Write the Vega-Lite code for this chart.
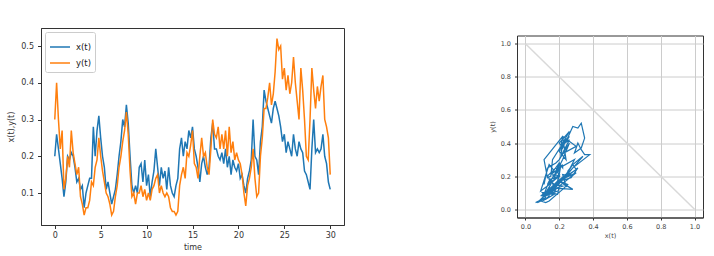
{
  "$schema": "https://vega.github.io/schema/vega-lite/v6.json",
  "padding": {"left": 7, "top": 27, "right": 5, "bottom": 5},
  "background": "white",
  "datasets": {
    "d": [
      {"t":0.0,"x":0.20,"y":0.30},{"t":0.2,"x":0.26,"y":0.40},{"t":0.4,"x":0.22,"y":0.30},{"t":0.6,"x":0.18,"y":0.22},{"t":0.8,"x":0.14,"y":0.27},
      {"t":1.0,"x":0.09,"y":0.11},{"t":1.2,"x":0.13,"y":0.14},{"t":1.4,"x":0.20,"y":0.20},{"t":1.6,"x":0.19,"y":0.17},{"t":1.8,"x":0.21,"y":0.27},
      {"t":2.0,"x":0.20,"y":0.21},{"t":2.2,"x":0.17,"y":0.18},{"t":2.4,"x":0.13,"y":0.15},{"t":2.6,"x":0.14,"y":0.17},{"t":2.8,"x":0.11,"y":0.09},
      {"t":3.0,"x":0.12,"y":0.07},{"t":3.2,"x":0.06,"y":0.04},{"t":3.4,"x":0.10,"y":0.06},{"t":3.6,"x":0.12,"y":0.06},{"t":3.8,"x":0.14,"y":0.08},
      {"t":4.0,"x":0.14,"y":0.13},{"t":4.2,"x":0.28,"y":0.12},{"t":4.4,"x":0.20,"y":0.17},{"t":4.6,"x":0.27,"y":0.19},{"t":4.8,"x":0.31,"y":0.25},
      {"t":5.0,"x":0.25,"y":0.20},{"t":5.2,"x":0.20,"y":0.16},{"t":5.4,"x":0.17,"y":0.13},{"t":5.6,"x":0.11,"y":0.10},{"t":5.8,"x":0.13,"y":0.09},
      {"t":6.0,"x":0.10,"y":0.07},{"t":6.2,"x":0.07,"y":0.04},{"t":6.4,"x":0.09,"y":0.05},{"t":6.6,"x":0.11,"y":0.09},{"t":6.8,"x":0.15,"y":0.12},
      {"t":7.0,"x":0.20,"y":0.17},{"t":7.2,"x":0.24,"y":0.20},{"t":7.4,"x":0.30,"y":0.24},{"t":7.6,"x":0.28,"y":0.27},{"t":7.8,"x":0.34,"y":0.32},
      {"t":8.0,"x":0.29,"y":0.26},{"t":8.2,"x":0.20,"y":0.16},{"t":8.4,"x":0.12,"y":0.09},{"t":8.6,"x":0.10,"y":0.10},{"t":8.8,"x":0.12,"y":0.07},
      {"t":9.0,"x":0.10,"y":0.10},{"t":9.2,"x":0.17,"y":0.10},{"t":9.4,"x":0.18,"y":0.12},{"t":9.6,"x":0.13,"y":0.09},{"t":9.8,"x":0.19,"y":0.11},
      {"t":10.0,"x":0.12,"y":0.08},{"t":10.2,"x":0.15,"y":0.10},{"t":10.4,"x":0.09,"y":0.08},{"t":10.6,"x":0.13,"y":0.11},{"t":10.8,"x":0.16,"y":0.12},
      {"t":11.0,"x":0.22,"y":0.14},{"t":11.2,"x":0.17,"y":0.15},{"t":11.4,"x":0.12,"y":0.10},{"t":11.6,"x":0.17,"y":0.12},{"t":11.8,"x":0.14,"y":0.10},
      {"t":12.0,"x":0.16,"y":0.09},{"t":12.2,"x":0.11,"y":0.10},{"t":12.4,"x":0.17,"y":0.09},{"t":12.6,"x":0.12,"y":0.06},{"t":12.8,"x":0.10,"y":0.05},
      {"t":13.0,"x":0.09,"y":0.05},{"t":13.2,"x":0.12,"y":0.04},{"t":13.4,"x":0.14,"y":0.05},{"t":13.6,"x":0.22,"y":0.12},{"t":13.8,"x":0.25,"y":0.15},
      {"t":14.0,"x":0.20,"y":0.17},{"t":14.2,"x":0.24,"y":0.14},{"t":14.4,"x":0.22,"y":0.21},{"t":14.6,"x":0.27,"y":0.20},{"t":14.8,"x":0.25,"y":0.23},
      {"t":15.0,"x":0.28,"y":0.27},{"t":15.2,"x":0.22,"y":0.18},{"t":15.4,"x":0.20,"y":0.17},{"t":15.6,"x":0.17,"y":0.14},{"t":15.8,"x":0.13,"y":0.20},
      {"t":16.0,"x":0.18,"y":0.25},{"t":16.2,"x":0.20,"y":0.20},{"t":16.4,"x":0.17,"y":0.21},{"t":16.6,"x":0.15,"y":0.17},{"t":16.8,"x":0.17,"y":0.15},
      {"t":17.0,"x":0.25,"y":0.22},{"t":17.2,"x":0.29,"y":0.30},{"t":17.4,"x":0.22,"y":0.26},{"t":17.6,"x":0.22,"y":0.25},{"t":17.8,"x":0.20,"y":0.28},
      {"t":18.0,"x":0.19,"y":0.22},{"t":18.2,"x":0.21,"y":0.26},{"t":18.4,"x":0.18,"y":0.22},{"t":18.6,"x":0.22,"y":0.27},{"t":18.8,"x":0.17,"y":0.20},
      {"t":19.0,"x":0.20,"y":0.28},{"t":19.2,"x":0.15,"y":0.21},{"t":19.4,"x":0.19,"y":0.24},{"t":19.6,"x":0.17,"y":0.19},{"t":19.8,"x":0.16,"y":0.21},
      {"t":20.0,"x":0.18,"y":0.19},{"t":20.2,"x":0.14,"y":0.18},{"t":20.4,"x":0.15,"y":0.15},{"t":20.6,"x":0.12,"y":0.10},{"t":20.8,"x":0.10,"y":0.065},
      {"t":21.0,"x":0.14,"y":0.12},{"t":21.2,"x":0.16,"y":0.14},{"t":21.4,"x":0.19,"y":0.17},{"t":21.6,"x":0.30,"y":0.22},{"t":21.8,"x":0.20,"y":0.14},
      {"t":22.0,"x":0.19,"y":0.09},{"t":22.2,"x":0.15,"y":0.10},{"t":22.4,"x":0.24,"y":0.20},{"t":22.6,"x":0.28,"y":0.25},{"t":22.8,"x":0.38,"y":0.33},
      {"t":23.0,"x":0.35,"y":0.33},{"t":23.2,"x":0.33,"y":0.36},{"t":23.4,"x":0.31,"y":0.40},{"t":23.6,"x":0.29,"y":0.34},{"t":23.8,"x":0.33,"y":0.37},
      {"t":24.0,"x":0.35,"y":0.43},{"t":24.2,"x":0.33,"y":0.52},{"t":24.4,"x":0.31,"y":0.49},{"t":24.6,"x":0.28,"y":0.50},{"t":24.8,"x":0.24,"y":0.41},
      {"t":25.0,"x":0.26,"y":0.44},{"t":25.2,"x":0.21,"y":0.38},{"t":25.4,"x":0.24,"y":0.42},{"t":25.6,"x":0.22,"y":0.37},{"t":25.8,"x":0.20,"y":0.40},
      {"t":26.0,"x":0.26,"y":0.47},{"t":26.2,"x":0.22,"y":0.40},{"t":26.4,"x":0.20,"y":0.35},{"t":26.6,"x":0.24,"y":0.30},{"t":26.8,"x":0.22,"y":0.44},
      {"t":27.0,"x":0.21,"y":0.38},{"t":27.2,"x":0.16,"y":0.30},{"t":27.4,"x":0.15,"y":0.20},{"t":27.6,"x":0.13,"y":0.19},{"t":27.8,"x":0.11,"y":0.30},
      {"t":28.0,"x":0.22,"y":0.44},{"t":28.2,"x":0.30,"y":0.38},{"t":28.4,"x":0.21,"y":0.33},{"t":28.6,"x":0.22,"y":0.39},{"t":28.8,"x":0.21,"y":0.35},
      {"t":29.0,"x":0.22,"y":0.39},{"t":29.2,"x":0.26,"y":0.42},{"t":29.4,"x":0.20,"y":0.30},{"t":29.6,"x":0.18,"y":0.28},{"t":29.8,"x":0.13,"y":0.25},
      {"t":30.0,"x":0.11,"y":0.15}
    ]
  },
  "data": {"name": "d"},
  "bounds": "flush",
  "center": true,
  "spacing": 173,
  "hconcat": [
    {
      "width": 303,
      "height": 197,
      "transform": [{"fold": ["x", "y"], "as": ["series", "v"]}],
      "mark": {"type": "line", "strokeWidth": 1.5},
      "encoding": {
        "x": {"field": "t", "type": "quantitative",
          "scale": {"domain": [-1.5, 31.5], "nice": false, "zero": false},
          "axis": {"values": [0, 5, 10, 15, 20, 25, 30], "title": "time", "grid": false, "labelFontSize": 8, "titleFontSize": 8, "tickSize": 3.5, "labelPadding": 3, "titlePadding": 4}},
        "y": {"field": "v", "type": "quantitative",
          "scale": {"domain": [0.013, 0.549], "nice": false, "zero": false},
          "axis": {"values": [0.1, 0.2, 0.3, 0.4, 0.5], "format": ".1f", "title": "x(t),y(t)", "grid": false, "labelFontSize": 8, "titleFontSize": 8, "tickSize": 3.5, "labelPadding": 4, "titlePadding": 5}},
        "color": {"field": "series", "type": "nominal",
          "scale": {"domain": ["x", "y"], "range": ["#1f77b4", "#ff7f0e"]},
          "legend": {"orient": "top-left", "offset": 4, "title": null, "labelExpr": "datum.label + '(t)'",
            "symbolType": "stroke", "symbolSize": 400, "symbolStrokeWidth": 1.5, "labelFontSize": 8.5,
            "labelOffset": 5, "rowPadding": -6, "padding": 4, "strokeColor": "#cccccc", "fillColor": "white", "cornerRadius": 2, "labelColor": "#222"}}
      }
    },
    {
      "width": 186,
      "height": 182,
      "encoding": {
        "x": {"type": "quantitative", "title": "x(t)",
          "scale": {"domain": [-0.05, 1.05], "nice": false, "zero": false},
          "axis": {"values": [0, 0.2, 0.4, 0.6, 0.8, 1.0], "format": ".1f", "grid": true, "gridColor": "#cccccc", "labelOverlap": false, "labelFontSize": 6.5, "titleFontSize": 6.5, "tickSize": 2.5, "labelPadding": 3, "titlePadding": 3, "labelColor": "#444444", "titleColor": "#444444"}},
        "y": {"type": "quantitative", "title": "y(t)",
          "scale": {"domain": [-0.05, 1.05], "nice": false, "zero": false},
          "axis": {"values": [0, 0.2, 0.4, 0.6, 0.8, 1.0], "format": ".1f", "grid": true, "gridColor": "#cccccc", "labelOverlap": false, "labelFontSize": 6.5, "titleFontSize": 6.5, "tickSize": 2.5, "labelPadding": 4, "titlePadding": 5, "labelColor": "#444444", "titleColor": "#444444"}}
      },
      "layer": [
        {
          "data": {"values": [{"a": 0, "b": 1}, {"a": 1, "b": 0}]},
          "mark": {"type": "line", "color": "#d9d9d9", "strokeWidth": 1.5},
          "encoding": {
            "x": {"field": "a"},
            "y": {"field": "b"}
          }
        },
        {
          "mark": {"type": "line", "color": "#1f77b4", "strokeWidth": 1.2},
          "encoding": {
            "x": {"field": "x"},
            "y": {"field": "y"},
            "order": {"field": "t"}
          }
        }
      ]
    }
  ],
  "config": {
    "font": "DejaVu Sans",
    "view": {"stroke": "#333333", "strokeWidth": 1},
    "axis": {"labelColor": "#333333", "titleColor": "#333333", "domainColor": "#333333", "tickColor": "#333333", "titleFontWeight": "normal", "labelFont": "DejaVu Sans", "titleFont": "DejaVu Sans"}
  }
}
